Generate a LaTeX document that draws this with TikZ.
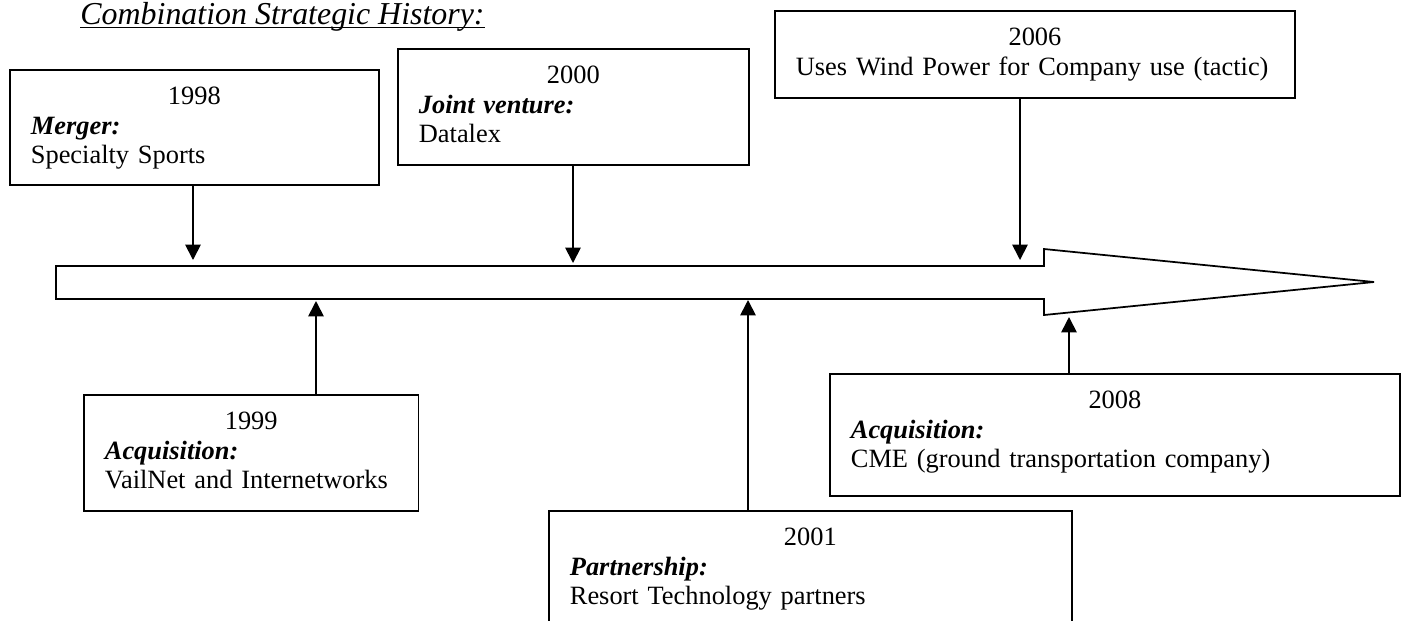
\documentclass[tikz,border=0pt]{standalone}
\usepackage{fontspec}
\setmainfont{Liberation Serif}
\usetikzlibrary{arrows.meta}
\begin{document}
\begin{tikzpicture}[x=0.4545pt,y=-0.4545pt,
  box/.style={draw, line width=0.8pt, anchor=north west, inner xsep=9.55pt, inner ysep=0pt,
    align=left, font=\fontsize{12pt}{13.4pt}\selectfont, text height=15.9pt},
  conn/.style={line width=0.8pt, -{Triangle[length=7pt,width=7pt]}},
  line/.style={line width=0.8pt}
  ]
\useasboundingbox (0,0) rectangle (1404,620);

% title
\node[anchor=base west, inner sep=0pt, font=\fontsize{14.5pt}{17pt}\selectfont\itshape] (title) at (80,24)
  {\underline{\smash{Combination Strategic History:}}};

% timeline arrow
\draw[line] (56,266) -- (1044,266) -- (1044,249) -- (1374,282) -- (1044,315) -- (1044,299) -- (56,299) -- cycle;

% boxes
\node[box, text width=148.6pt, text depth=36.4pt] (b1998) at (9,69)
  {\makebox[\linewidth]{1998}\\\textbf{\textit{Merger:}}\\Specialty Sports};
\node[box, text width=140.4pt, text depth=36.8pt] (b2000) at (397,48)
  {\makebox[\linewidth]{2000}\\\textbf{\textit{Joint venture:}}\\Datalex};
\node[box, text width=217.3pt, text depth=23.6pt] (b2006) at (774,10)
  {\makebox[\linewidth]{2006}\\Uses Wind Power for Company use (tactic)};
\node[box, text width=133pt, text depth=36.8pt] (b1999) at (83,394)
  {\makebox[\linewidth]{1999}\\\textbf{\textit{Acquisition:}}\\VailNet and Internetworks};
\node[box, text width=218.6pt, text depth=47.3pt] (b2001) at (548,510)
  {\makebox[\linewidth]{2001}\\\textbf{\textit{Partnership:}}\\Resort Technology partners};
\node[box, text width=240pt, text depth=39.5pt] (b2008) at (829,373)
  {\makebox[\linewidth]{2008}\\\textbf{\textit{Acquisition:}}\\CME (ground transportation company)};

% arrow ends on the timeline
\coordinate (e1998) at (193,260);
\coordinate (e2000) at (573,263);
\coordinate (e2006) at (1020,260);
\coordinate (e1999) at (316,301);
\coordinate (e2001) at (748,300);
\coordinate (e2008) at (1069,317);

\draw[conn] (e1998 |- b1998.south) -- (e1998);
\draw[conn] (e2000 |- b2000.south) -- (e2000);
\draw[conn] (e2006 |- b2006.south) -- (e2006);
\draw[conn] (e1999 |- b1999.north) -- (e1999);
\draw[conn] (e2001 |- b2001.north) -- (e2001);
\draw[conn] (e2008 |- b2008.north) -- (e2008);
\end{tikzpicture}
\end{document}
